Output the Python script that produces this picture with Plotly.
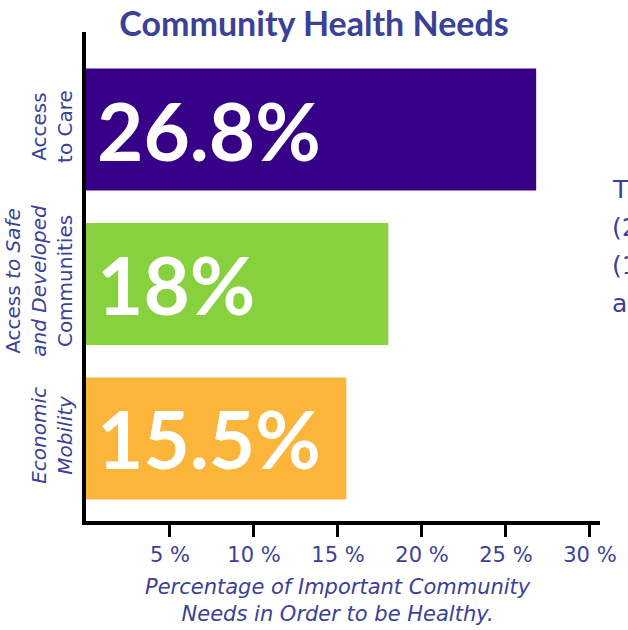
import plotly.graph_objects as go

# Data
categories = [
    "Access<br>to Care",
    "Access <i>to Safe</i><br><i>and Developed</i><br>Communities",
    "<i>Economic<br>Mobility</i>",
]
values = [26.8, 18, 15.5]
bar_colors = ["#360087", "#88d13e", "#fab53a"]
tick_values = [5, 10, 15, 20, 25, 30]
tick_labels = [f"{v} %" for v in tick_values]
side_note_lines = ["The", "(26.8%)", "(18%)", "and"]

TEXT_BLUE = "#3b4196"
FONT = "Lato"
WIDE_FONT = "DejaVu Sans"

fig = go.Figure()

fig.add_trace(
    go.Bar(
        x=values,
        y=categories,
        orientation="h",
        marker=dict(color=bar_colors, line=dict(width=0)),
        width=0.79,
        hoverinfo="skip",
    )
)

# Big value labels inside each bar
for cat, v in zip(categories, values):
    fig.add_annotation(
        x=0, y=cat, xref="x", yref="y",
        text=f"{v:g}%",
        showarrow=False,
        xanchor="left", yanchor="middle",
        xshift=9,
        font=dict(family=FONT, size=80, color="white", weight=700),
    )

# X axis title (two lines, italic)
fig.add_annotation(
    x=0.49, y=-0.163, xref="paper", yref="paper",
    text="<i>Percentage of Important Community<br>Needs in Order to be Healthy.</i>",
    showarrow=False, xanchor="center", yanchor="middle",
    font=dict(family=WIDE_FONT, size=21, color=TEXT_BLUE),
)

# Side note text running off the right edge
for i, line in enumerate(side_note_lines):
    fig.add_annotation(
        x=1.02, y=0.678 - i * 0.0774, xref="paper", yref="paper",
        text=line, showarrow=False, xanchor="left", yanchor="middle",
        font=dict(family=WIDE_FONT, size=25, color=TEXT_BLUE),
    )

fig.update_layout(
    width=628,
    height=630,
    margin=dict(l=86, r=28, t=32, b=109),
    paper_bgcolor="white",
    plot_bgcolor="white",
    showlegend=False,
    title=dict(
        text="<b>Community Health Needs</b>",
        x=0.5, xanchor="center",
        y=0.962, yanchor="middle",
        font=dict(family=FONT, size=34, color=TEXT_BLUE),
    ),
    xaxis=dict(
        range=[0, 30.6],
        automargin=False,
        showgrid=False,
        zeroline=False,
        showline=True,
        linewidth=4,
        linecolor="black",
        ticks="outside",
        ticklen=12,
        tickwidth=3,
        tickcolor="black",
        tickvals=tick_values,
        ticktext=tick_labels,
        tickfont=dict(family=WIDE_FONT, size=21, color=TEXT_BLUE),
        fixedrange=True,
    ),
    yaxis=dict(
        type="category",
        categoryorder="array",
        categoryarray=categories,
        range=[2.535, -0.632],
        automargin=False,
        showgrid=False,
        zeroline=False,
        showline=True,
        linewidth=4,
        linecolor="black",
        ticks="",
        tickangle=-90,
        ticklabelstandoff=2,
        tickfont=dict(family=WIDE_FONT, size=20, color=TEXT_BLUE),
        fixedrange=True,
    ),
)

fig.write_html("out.html")
